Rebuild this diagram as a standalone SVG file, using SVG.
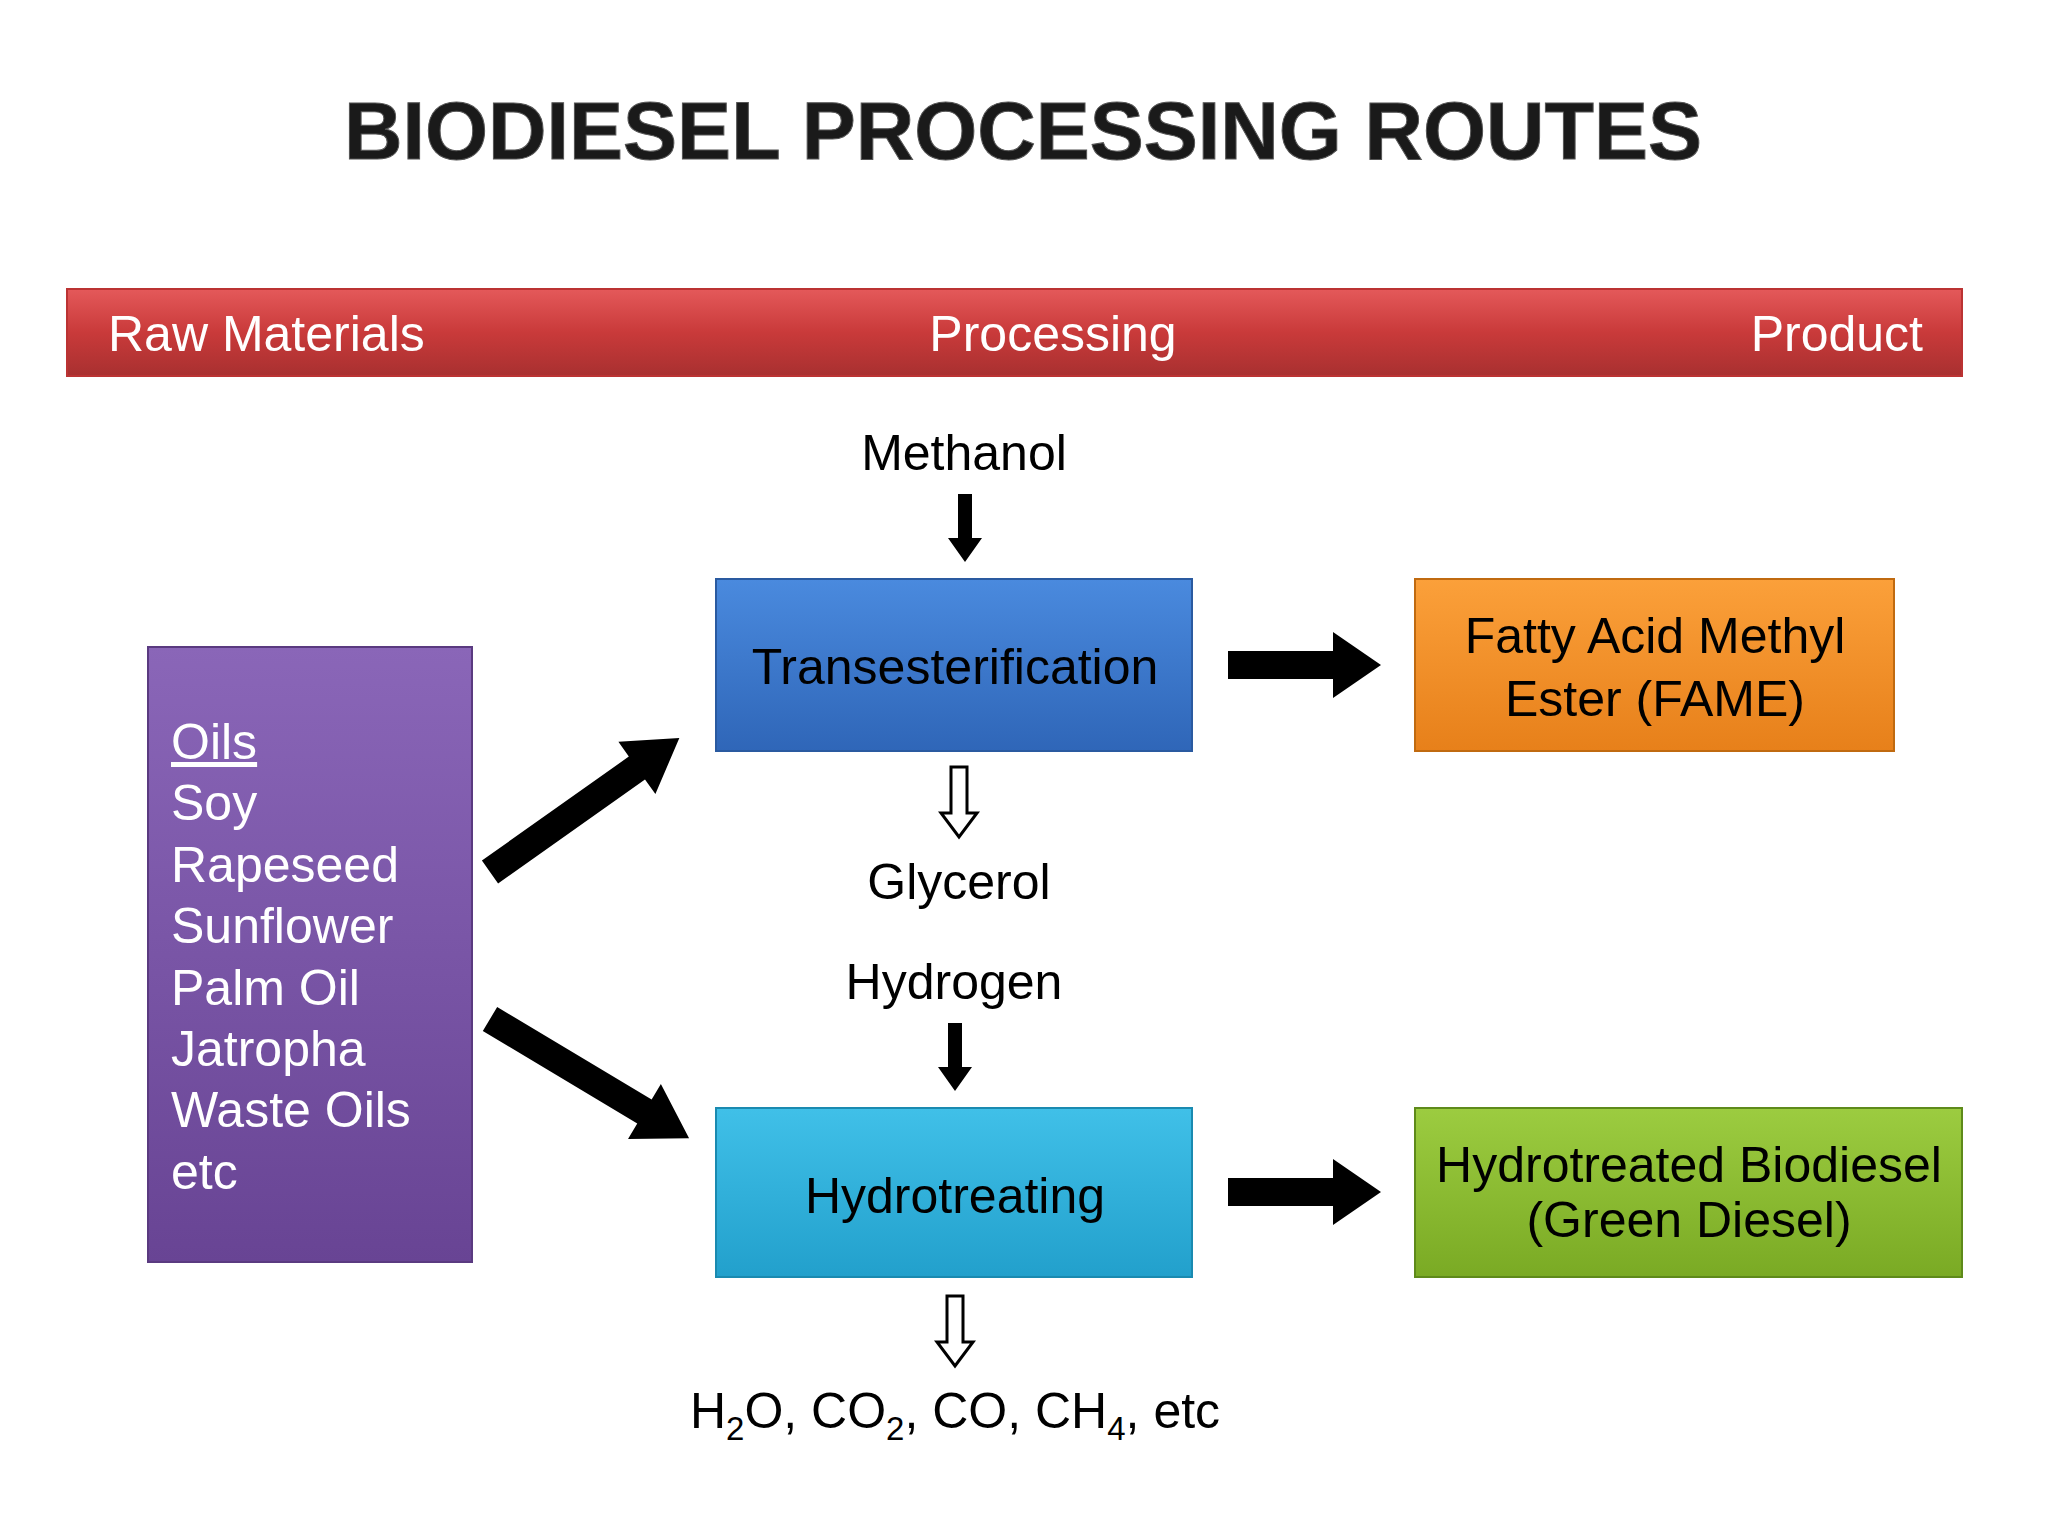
<svg xmlns="http://www.w3.org/2000/svg" width="2048" height="1536" viewBox="0 0 2048 1536">
<defs>
<linearGradient id="gRed" x1="0" y1="0" x2="0" y2="1"><stop offset="0" stop-color="#e4595a"/><stop offset="0.5" stop-color="#c93a3a"/><stop offset="1" stop-color="#a83030"/></linearGradient>
<linearGradient id="gBlue" x1="0" y1="0" x2="0" y2="1"><stop offset="0" stop-color="#4a8ade"/><stop offset="1" stop-color="#2f66b8"/></linearGradient>
<linearGradient id="gCyan" x1="0" y1="0" x2="0" y2="1"><stop offset="0" stop-color="#40c0e8"/><stop offset="1" stop-color="#22a0cc"/></linearGradient>
<linearGradient id="gOrange" x1="0" y1="0" x2="0" y2="1"><stop offset="0" stop-color="#fba03a"/><stop offset="1" stop-color="#e7801a"/></linearGradient>
<linearGradient id="gGreen" x1="0" y1="0" x2="0" y2="1"><stop offset="0" stop-color="#9ccc40"/><stop offset="1" stop-color="#7aaa24"/></linearGradient>
<linearGradient id="gPurple" x1="0" y1="0" x2="0" y2="1"><stop offset="0" stop-color="#8a66b8"/><stop offset="1" stop-color="#684494"/></linearGradient>
<path id="aRight" d="M0,-14 H105 V-33 L153,0 L105,33 V14 H0 Z"/>
<path id="aDiag" d="M0,-14 H180 V-32 L232,0 L180,32 V14 H0 Z"/>
<path id="aDown" d="M-7,0 V44 H-17 L0,68 L17,44 H7 V0 Z"/>
<path id="aHollow" d="M-8,0 V46 H-18 L0,70 L18,46 H8 V0 Z"/>
</defs>
<style>
text{font-family:"Liberation Sans",Arial,sans-serif}
.box{stroke-width:2}
.w{fill:#fff;font-size:50px}
.k{fill:#000;font-size:50px}
.hol{fill:#fff;stroke:#000;stroke-width:3}
</style>
<rect width="2048" height="1536" fill="#fff"/>
<text x="1023" y="159" text-anchor="middle" font-family="'Open Sans',sans-serif" font-weight="bold" font-size="82" textLength="1358" lengthAdjust="spacingAndGlyphs" fill="#1a1a1a" stroke="#555" stroke-width="1">BIODIESEL PROCESSING ROUTES</text>
<g id="header">
<rect x="67" y="289" width="1895" height="87" fill="url(#gRed)" stroke="#b33" stroke-width="2"/>
<text class="w" x="108" y="351">Raw Materials</text>
<text class="w" x="1053" y="351" text-anchor="middle">Processing</text>
<text class="w" x="1923" y="351" text-anchor="end">Product</text>
</g>
<g id="raw">
<rect class="box" x="148" y="647" width="324" height="615" fill="url(#gPurple)" stroke="#5a3a80"/>
<text class="w" x="171" y="759"><tspan text-decoration="underline">Oils</tspan><tspan x="171" dy="61.4">Soy</tspan><tspan x="171" dy="61.4">Rapeseed</tspan><tspan x="171" dy="61.4">Sunflower</tspan><tspan x="171" dy="61.4">Palm Oil</tspan><tspan x="171" dy="61.4">Jatropha</tspan><tspan x="171" dy="61.4">Waste Oils</tspan><tspan x="171" dy="61.4">etc</tspan></text>
</g>
<g id="trans">
<rect class="box" x="716" y="579" width="476" height="172" fill="url(#gBlue)" stroke="#2a5aa0"/>
<text class="k" x="955" y="684" text-anchor="middle">Transesterification</text>
</g>
<g id="hydro">
<rect class="box" x="716" y="1108" width="476" height="169" fill="url(#gCyan)" stroke="#1a8ab0"/>
<text class="k" x="955" y="1213" text-anchor="middle">Hydrotreating</text>
</g>
<g id="fame">
<rect class="box" x="1415" y="579" width="479" height="172" fill="url(#gOrange)" stroke="#c06a10"/>
<text class="k" x="1655" y="653" text-anchor="middle">Fatty Acid Methyl</text>
<text class="k" x="1655" y="716" text-anchor="middle">Ester (FAME)</text>
</g>
<g id="green">
<rect class="box" x="1415" y="1108" width="547" height="169" fill="url(#gGreen)" stroke="#5e8a1a"/>
<text class="k" x="1689" y="1182" text-anchor="middle" font-size="39">Hydrotreated Biodiesel</text>
<text class="k" x="1689" y="1237" text-anchor="middle" font-size="39">(Green Diesel)</text>
</g>
<g id="labels">
<text class="k" x="964" y="470" text-anchor="middle">Methanol</text>
<text class="k" x="959" y="899" text-anchor="middle">Glycerol</text>
<text class="k" x="954" y="999" text-anchor="middle">Hydrogen</text>
<text class="k" x="955" y="1428" text-anchor="middle">H<tspan font-size="33" dy="12">2</tspan><tspan dy="-12">O, CO</tspan><tspan font-size="33" dy="12">2</tspan><tspan dy="-12">, CO, CH</tspan><tspan font-size="33" dy="12">4</tspan><tspan dy="-12">, etc</tspan></text>
</g>
<g id="connectors" fill="#000">
<use href="#aDown" x="965" y="494"/>
<use href="#aDown" x="955" y="1023"/>
<use href="#aHollow" x="959" y="767" class="hol"/>
<use href="#aHollow" x="955" y="1296" class="hol"/>
<use href="#aRight" x="1228" y="665"/>
<use href="#aRight" x="1228" y="1192"/>
<use href="#aDiag" transform="translate(490,872) rotate(-35.3)"/>
<use href="#aDiag" transform="translate(490,1019) rotate(30.9)"/>
</g>
</svg>
